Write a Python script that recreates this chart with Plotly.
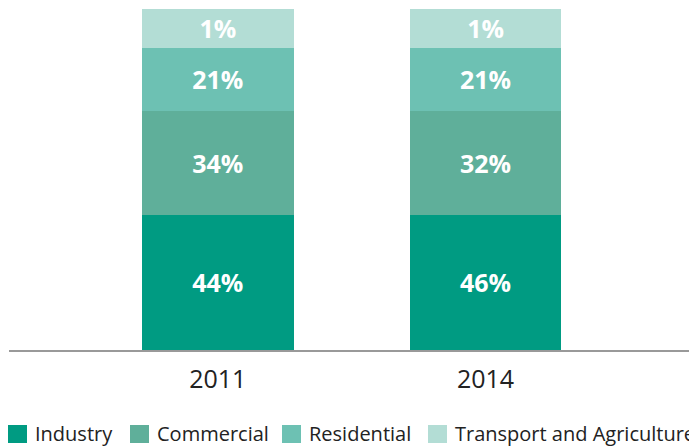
import plotly.graph_objects as go

years = ["2011", "2014"]
sectors = ["Industry", "Commercial", "Residential", "Transport and Agriculture"]
# drawn segment heights
heights = {
    "Industry": [39.6, 39.6],
    "Commercial": [30.4, 30.4],
    "Residential": [18.7, 18.7],
    "Transport and Agriculture": [11.3, 11.3],
}
# printed labels
labels = {
    "Industry": ["44%", "46%"],
    "Commercial": ["34%", "32%"],
    "Residential": ["21%", "21%"],
    "Transport and Agriculture": ["1%", "1%"],
}
colors = {
    "Industry": "#009B82",
    "Commercial": "#5FAF9A",
    "Residential": "#6DC1B3",
    "Transport and Agriculture": "#B3DDD5",
}

W, H = 689, 446
ML, MR, MT, MB = 9, 0, 9, 96

fig = go.Figure()
for s in sectors:
    fig.add_trace(go.Bar(
        x=years, y=heights[s], name=s,
        marker=dict(color=colors[s], line=dict(width=0)),
        text=labels[s], textposition="inside", insidetextanchor="middle",
        textangle=0, constraintext="none",
        textfont=dict(family="Open Sans", size=25, color="white", weight="bold"),
        width=0.567, showlegend=False, hoverinfo="skip",
    ))

# manual legend (keeps one row, clipped at right like the reference)
pw = W - ML - MR
ph = H - MT - MB
def px_x(px):
    return (px - ML) / pw
def px_y(py):
    return (H - MB - py) / ph

leg_x = [8, 130, 282, 428]
for s, lx in zip(sectors, leg_x):
    fig.add_shape(type="rect", xref="paper", yref="paper",
                  x0=px_x(lx), x1=px_x(lx + 19), y0=px_y(443), y1=px_y(425),
                  fillcolor=colors[s], line=dict(width=0))
    fig.add_annotation(xref="paper", yref="paper", x=px_x(lx + 25), y=px_y(433),
                       text=s, showarrow=False, xanchor="left", yanchor="middle",
                       font=dict(family="Open Sans", size=20, color="#222222"))

fig.update_layout(
    width=W, height=H, barmode="stack",
    margin=dict(l=ML, r=MR, t=MT, b=MB),
    plot_bgcolor="white", paper_bgcolor="white",
    font=dict(family="Open Sans", color="#222222"),
    xaxis=dict(type="category", range=[-0.78, 1.76], showline=True,
               linecolor="#999999", linewidth=2, showgrid=False, ticks="",
               tickfont=dict(family="Open Sans", size=25, color="#222222"),
               ticklabelstandoff=6),
    yaxis=dict(range=[0, 100], visible=False, showgrid=False),
    uniformtext=dict(mode=False),
)
fig.write_html("out.html", config={"displayModeBar": False},
               post_script="document.body.style.margin='0';")
